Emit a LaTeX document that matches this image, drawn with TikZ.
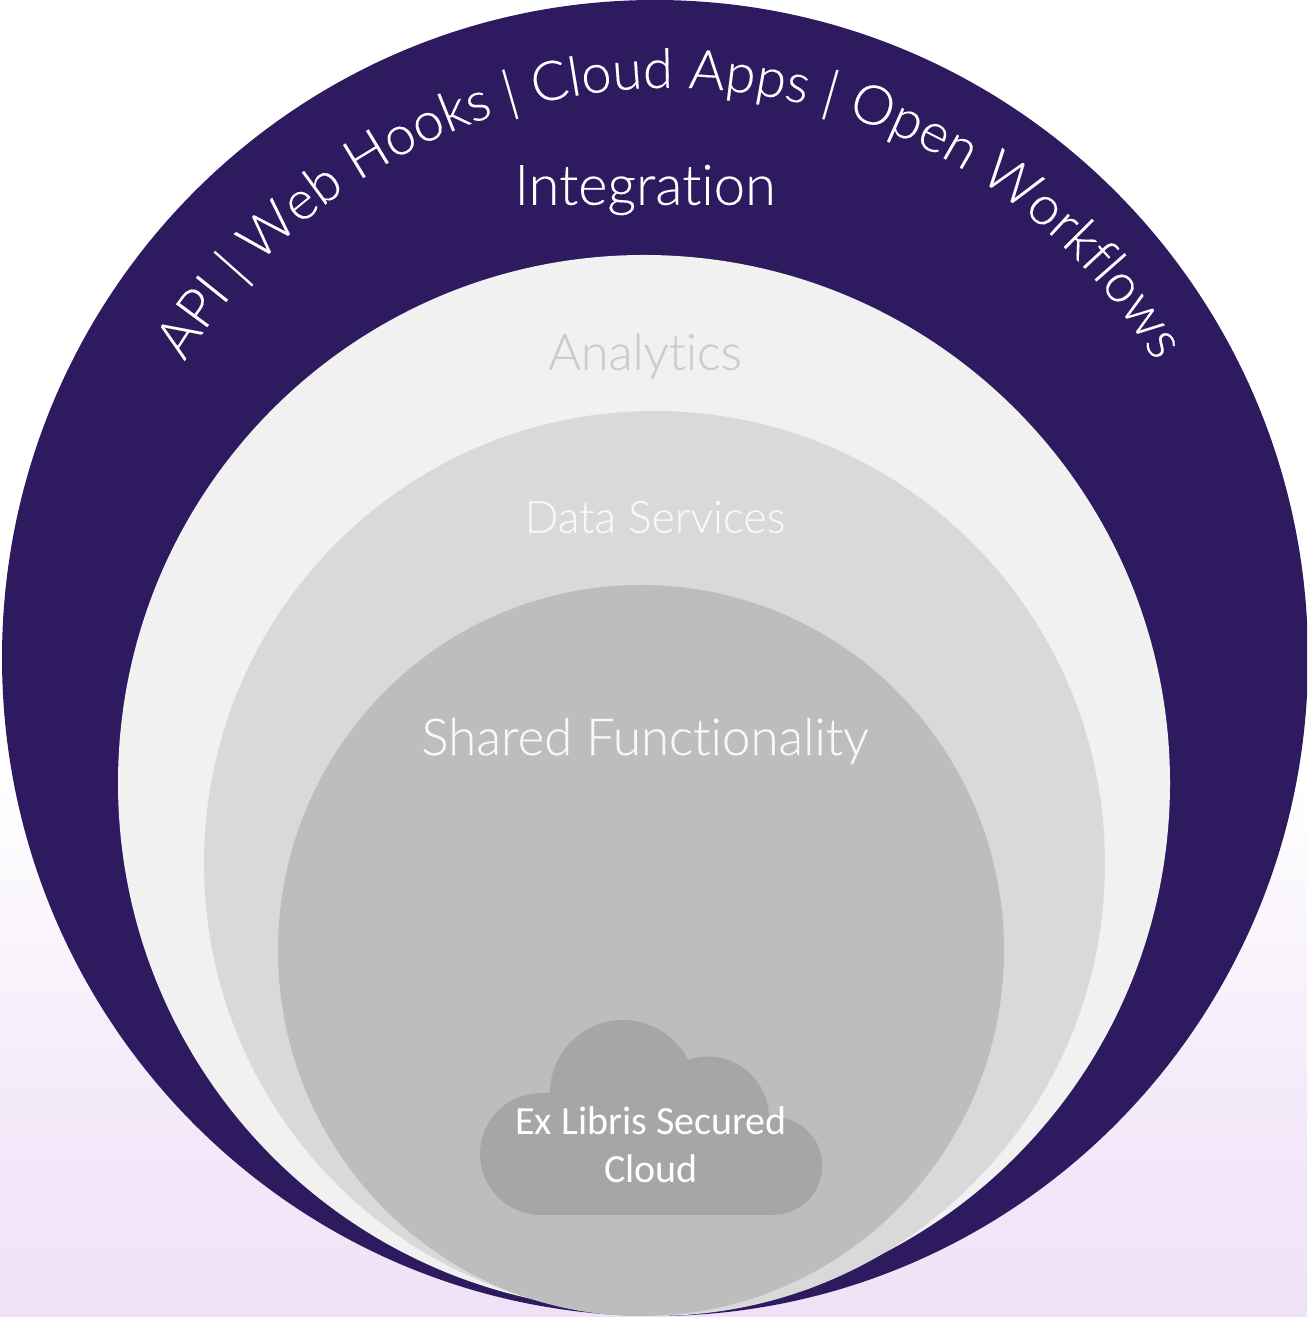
\documentclass[tikz,border=0pt]{standalone}
\usepackage{fontspec}
\usetikzlibrary{decorations.text}
\setmainfont{Lato}[UprightFont=* Light,UprightFeatures={FakeBold=0.25},Ligatures=NoCommon]
\newfontfamily\cloudfont{Carlito}
\definecolor{bgmid}{HTML}{F3E9F9}
\definecolor{bgend}{HTML}{EFE2F8}
\definecolor{ringpurple}{HTML}{2E1A5F}
\definecolor{ringa}{HTML}{F1F1F1}
\definecolor{ringb}{HTML}{D9D9D9}
\definecolor{ringc}{HTML}{BDBDBD}
\definecolor{cloudgrey}{HTML}{A6A6A6}
\definecolor{labellight}{HTML}{F8F8F8}
\definecolor{labelana}{HTML}{CCCCCC}
\tikzset{
  ringlabel/.style={inner sep=0pt,anchor=center},
}
\begin{document}
\begin{tikzpicture}[x=1pt,y=1pt]
\useasboundingbox (0,0) rectangle (1307,1317);
% y values below are 1317 - (pixel row)
\fill[white] (0,537) rectangle (1307,1317);
\shade[top color=white,bottom color=bgmid] (0,197) rectangle (1307,537);
\shade[top color=bgmid,bottom color=bgend] (0,0) rectangle (1307,197);
\begin{scope}
\clip (0,0) rectangle (1307,1317);
\fill[ringpurple] (655,659) ellipse [x radius=653,y radius=658];
\end{scope}
\fill[ringa] (644,534) ellipse [x radius=526,y radius=528];
\fill[ringb] (654.5,453.5) ellipse [x radius=450.5,y radius=452.5];
\fill[ringc] (641,366.5) ellipse [x radius=363,y radius=365.5];
% cloud
\fill[cloudgrey] (541,102) arc[start angle=270,end angle=90,radius=61]
  -- (550,224) arc[start angle=180,end angle=27,radius=73]
  arc[start angle=109,end angle=0,radius=61]
  -- (769,200) arc[start angle=95,end angle=-90,radius=49]
  -- cycle;
% curved label
\path[decorate,decoration={text along path,text format delimiters={<}{>},
  text={<\fontsize{54.5}{60}\selectfont\color{white}>API | Web Hooks | Cloud Apps | Open Workflows},
  text align=center}]
  (670,662) ++(170:567) arc[start angle=170,end angle=10,radius=567];
\node[ringlabel,text=white,font=\fontsize{56}{64}\selectfont] (integration) at (645,1127) {Integration};
\node[ringlabel,text=labelana,font=\fontsize{50}{58}\selectfont] (analytics) at (645,961) {Analytics};
\node[ringlabel,text=labellight,font=\fontsize{44.5}{52}\selectfont] (dataservices) at (655,800) {Data Services};
\node[ringlabel,text=labellight,font=\fontsize{51}{58}\selectfont] (shared) at (645,576) {Shared Functionality};
\node[ringlabel,text=white,align=center,font=\cloudfont\fontsize{40}{48}\selectfont] (cloud) at (651,172) {Ex Libris Secured\\Cloud};
\end{tikzpicture}
\end{document}
